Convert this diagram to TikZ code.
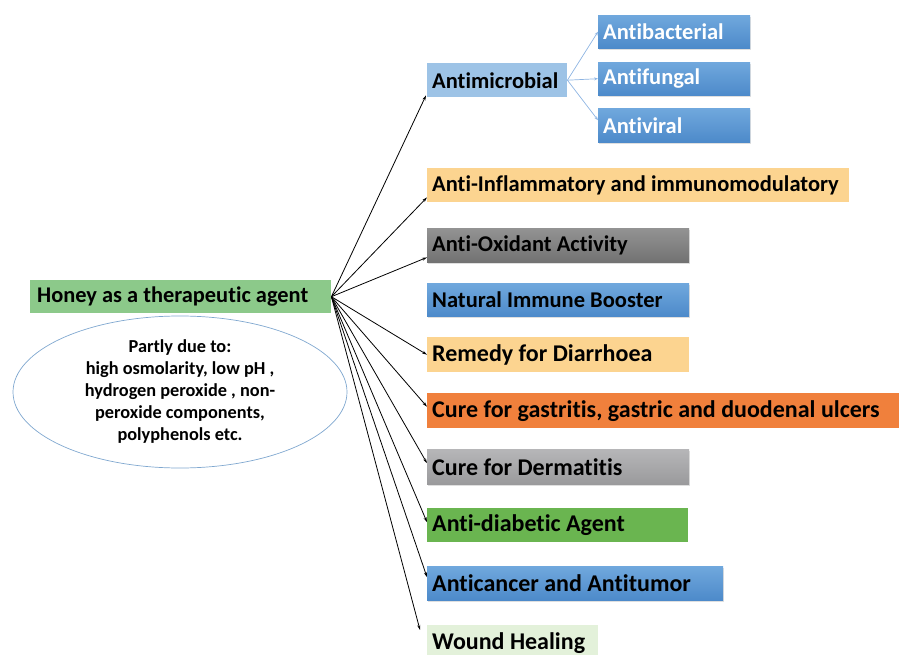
\documentclass[tikz,border=0pt]{standalone}
\usepackage{fontspec}
\setmainfont{Carlito}[Ligatures=NoCommon]
\usetikzlibrary{arrows.meta,shapes.geometric,shadows}
\definecolor{honeyg}{HTML}{8CC98A}
\definecolor{amicro}{HTML}{9DC3E6}
\definecolor{bluetop}{HTML}{70A8DD}
\definecolor{bluebot}{HTML}{4D8ACA}
\definecolor{lorange}{HTML}{FCD490}
\definecolor{dgraytop}{HTML}{939393}
\definecolor{dgraybot}{HTML}{727272}
\definecolor{lgraytop}{HTML}{B6B6B8}
\definecolor{lgraybot}{HTML}{9A9A9C}
\definecolor{orangeb}{HTML}{F0803C}
\definecolor{greenb}{HTML}{6AB550}
\definecolor{woundg}{HTML}{E3F1DA}
\definecolor{ellline}{HTML}{7FA7CF}
\definecolor{subline}{HTML}{8DB4E2}
\newcommand{\bxt}[2]{\makebox[#1][l]{#2}}
\begin{document}
\begin{tikzpicture}[x=1pt,y=-1pt,
  box/.style={anchor=north west, inner xsep=5pt, inner ysep=0pt,
    font=\bfseries\fontsize{22.5}{26}\selectfont, text=black},
  bigtext/.style={font=\bfseries\fontsize{24}{28}\selectfont},
  subbox/.style={box, text=white,
    top color=bluetop, bottom color=bluebot, drop shadow={opacity=0.25,shadow xshift=1pt,shadow yshift=-1.5pt}},
  bluebox/.style={top color=bluetop, bottom color=bluebot, drop shadow={opacity=0.25,shadow xshift=1pt,shadow yshift=-1.5pt}},
  dgraybox/.style={top color=dgraytop, bottom color=dgraybot, drop shadow={opacity=0.25,shadow xshift=1pt,shadow yshift=-1.5pt}},
  lgraybox/.style={top color=lgraytop, bottom color=lgraybot, drop shadow={opacity=0.25,shadow xshift=1pt,shadow yshift=-1.5pt}},
  fan/.style={draw=black, line width=0.8pt, -{Stealth[length=5pt,width=3pt]}},
  subarrow/.style={draw=subline, line width=0.7pt, -{Stealth[length=4pt,width=3pt]}}]
\useasboundingbox (0,0) rectangle (899,655);

% source
\node[box, fill=honeyg, inner xsep=7pt, font=\bfseries\fontsize{22.4}{26}\selectfont, minimum height=33pt] (honey) at (30,280) {\bxt{287pt}{Honey as a therapeutic agent}};
\node[ellipse, draw=ellline, line width=0.7pt, minimum width=334pt, minimum height=152pt, inner sep=0pt,
  align=center, font=\bfseries\fontsize{18.3}{22}\selectfont] (why) at (180,392)
  {Partly due to:\\high osmolarity, low pH ,\\hydrogen peroxide , non-\\peroxide components,\\polyphenols etc.};

% antimicrobial group
\node[box, fill=amicro, minimum height=34pt] (micro) at (427,63) {\bxt{130pt}{Antimicrobial}};
\node[subbox, minimum height=33pt] (bact) at (598,15) {\bxt{142pt}{Antibacterial}};
\node[subbox, minimum height=33pt] (fung) at (598,62) {\bxt{142pt}{Antifungal}};
\node[subbox, minimum height=34pt] (vir) at (598,108) {\bxt{142pt}{Antiviral}};

% effect boxes
\node[box, fill=lorange, minimum height=34pt] (infl) at (427,168) {\bxt{412pt}{Anti-Inflammatory and immunomodulatory}};
\node[box, dgraybox, minimum height=34pt] (oxid) at (427,228) {\bxt{252pt}{Anti-Oxidant Activity}};
\node[box, bluebox, minimum height=33pt] (immu) at (427,283) {\bxt{252pt}{Natural Immune Booster}};
\node[box, bigtext, fill=lorange, minimum height=35pt] (diar) at (427,337) {\bxt{252pt}{Remedy for Diarrhoea}};
\node[box, bigtext, fill=orangeb, minimum height=35pt] (gast) at (427,393) {\bxt{462pt}{Cure for gastritis, gastric and duodenal ulcers}};
\node[box, bigtext, lgraybox, minimum height=35pt] (derm) at (427,449) {\bxt{252pt}{Cure for Dermatitis}};
\node[box, bigtext, fill=greenb, minimum height=34pt] (diab) at (427,508) {\bxt{251pt}{Anti-diabetic Agent}};
\node[box, bigtext, bluebox, minimum height=34pt] (canc) at (427,566) {\bxt{286pt}{Anticancer and Antitumor}};
\node[box, bigtext, fill=woundg, minimum height=36pt] (wound) at (427,625) {\bxt{161pt}{Wound Healing}};

% connectors
\draw[subarrow] (micro.east) -- (bact.west);
\draw[subarrow] (micro.east) -- (fung.west);
\draw[subarrow] (micro.east) -- ([yshift=5pt]vir.west);

\draw[fan] (honey.east) -- ([xshift=-1pt,yshift=2pt]micro.south west);
\draw[fan] (honey.east) -- ([yshift=5pt]infl.south west);
\draw[fan] (honey.east) -- ([yshift=5pt]oxid.south west);
\draw[fan] (honey.east) -- (diar.west);
\draw[fan] (honey.east) -- ([yshift=4pt]gast.west);
\draw[fan] (honey.east) -- ([yshift=3.5pt]derm.west);
\draw[fan] (honey.east) -- ([yshift=3pt]diab.west);
\draw[fan] (honey.east) -- ([yshift=6pt]canc.west);
\draw[fan] (honey.east) -- ([xshift=-7pt,yshift=-5pt]wound.north west);
\end{tikzpicture}
\end{document}
